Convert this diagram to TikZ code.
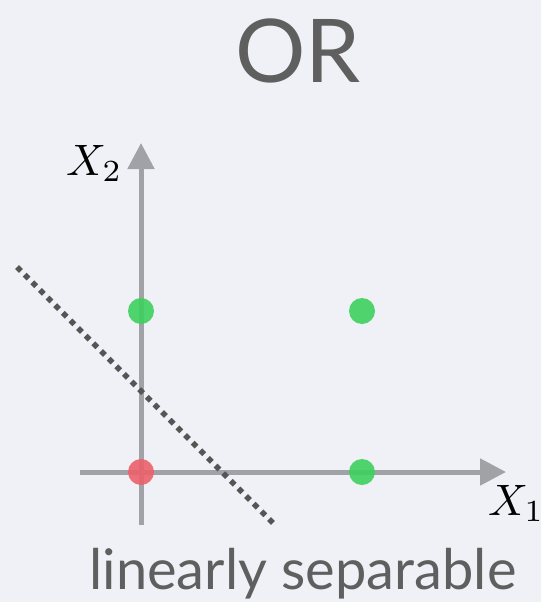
\documentclass[tikz,border=0pt]{standalone}
\usepackage{fontspec}
\usepackage{graphicx}
\newfontfamily\titlefont{Lato}
\usetikzlibrary{arrows.meta}
\definecolor{bg}{RGB}{240,241,246}
\definecolor{axisgray}{RGB}{160,162,165}
\definecolor{ptgreen}{RGB}{62,208,94}
\definecolor{ptred}{RGB}{236,96,108}
\definecolor{textgray}{RGB}{95,95,95}
\definecolor{dotgray}{RGB}{85,85,85}
\begin{document}
\begin{tikzpicture}[x=1pt,y=-1pt,
  axis/.style={draw=axisgray,line width=5pt,-{Triangle[length=26pt,width=26pt]}},
  pt/.style={circle,inner sep=0pt,minimum size=26pt,opacity=0.9},
  sep/.style={draw=dotgray,line width=5.5pt,dash pattern=on 5.5pt off 5.3pt}]
\fill[bg] (0,0) rectangle (541,602);
\useasboundingbox (0,0) rectangle (541,602);
\coordinate (ybot) at (141,525);
\coordinate (ytop) at (141,143);
\coordinate (xleft) at (80,472);
\coordinate (xright) at (506,472);
\draw[axis] (ybot) -- (ytop);
\draw[axis] (xleft) -- (xright);
\coordinate (s1) at (17,267);
\coordinate (s2) at (275,525);
\draw[sep] (s1) -- (s2);
\node[pt,fill=ptgreen] (p01) at (141,311) {};
\node[pt,fill=ptgreen] (p11) at (362,311) {};
\node[pt,fill=ptgreen] (p10) at (362,472) {};
\node[pt,fill=ptred] (p00) at (141,472) {};
\node[anchor=base west,inner sep=0pt] (lx2) at (66,175) {\scalebox{4.4}{$X_2$}};
\node[anchor=base west,inner sep=0pt] (lx1) at (488,515) {\scalebox{4.4}{$X_1$}};
\node[anchor=base,inner sep=0pt,text=textgray,font=\titlefont\fontsize{88}{88}\selectfont] (title) at (298,82) {OR};
\node[anchor=base,inner sep=0pt,text=textgray,font=\titlefont\fontsize{56}{56}\selectfont] (cap) at (303,589) {linearly separable};
\end{tikzpicture}
\end{document}
